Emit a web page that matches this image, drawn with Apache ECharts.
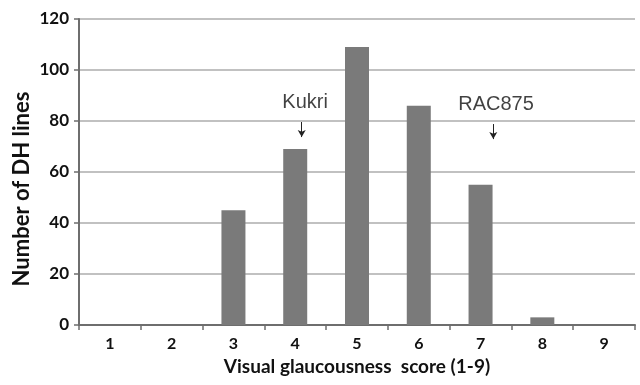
<!DOCTYPE html>
<html>
<head>
<meta charset="utf-8">
<script src="https://cdn.jsdelivr.net/npm/echarts@6/dist/echarts.min.js"></script>
<style>
html,body{margin:0;padding:0;background:#fff;}
#chart{width:640px;height:385px;}
</style>
</head>
<body>
<div id="chart"></div>
<script>
var categories = ['1','2','3','4','5','6','7','8','9'];
var counts = [0, 0, 45, 69, 109, 86, 55, 3, 0];
var yTicks = [0, 20, 40, 60, 80, 100, 120];
var xTitle = 'Visual glaucousness  score (1-9)';
var yTitle = 'Number of DH lines';
// annotations: label, x position on score scale, label height, arrow top, arrow bottom
var annotLabels = ['Kukri', 'RAC875'];
var annotTextX = [4.16, 7.25];
var annotArrowX = [4.105, 7.206];
var annotTextY = [87.1, 86.5];
var annotArrowTop = [79.6, 78.8];
var annotArrowBottom = [73.7, 72.9];

var FONT = 'Lato';
var chart = echarts.init(document.getElementById('chart'));

var textPoints = annotLabels.map(function (l, i) {
  return { value: [annotTextX[i], annotTextY[i]], name: l };
});
var arrowLines = annotLabels.map(function (l, i) {
  return [{ coord: [annotArrowX[i], annotArrowTop[i]] }, { coord: [annotArrowX[i], annotArrowBottom[i]] }];
});

chart.setOption({
  animation: false,
  grid: { left: 79, right: 5, top: 19, bottom: 60, containLabel: false },
  xAxis: [{
    type: 'category',
    data: categories,
    name: xTitle,
    nameLocation: 'middle',
    nameGap: 26,
    nameTextStyle: { fontFamily: FONT, fontWeight: 'bold', fontSize: 19, color: '#111' },
    axisLine: { lineStyle: { color: '#6e6e6e', width: 2 } },
    axisTick: { show: true, alignWithLabel: false, length: 5, lineStyle: { color: '#6e6e6e', width: 1.5 } },
    axisLabel: { fontFamily: FONT, fontWeight: 'bold', fontSize: 16, color: '#111', margin: 11 },
    splitLine: { show: false }
  }, {
    type: 'value',
    min: 0.5, max: 9.5,
    show: false,
    position: 'bottom'
  }],
  yAxis: {
    type: 'value',
    min: yTicks[0],
    max: yTicks[yTicks.length - 1],
    interval: yTicks[1] - yTicks[0],
    axisLine: { show: true, lineStyle: { color: '#6e6e6e', width: 2 } },
    axisTick: { show: true, length: 5, lineStyle: { color: '#6e6e6e', width: 1.5 } },
    axisLabel: { fontFamily: FONT, fontWeight: 'bold', fontSize: 17, color: '#111', margin: 10 },
    splitLine: { show: true, lineStyle: { color: '#acacac', width: 1.5 } }
  },
  graphic: [{
    type: 'text',
    x: 22, y: 189,
    rotation: Math.PI / 2,
    style: {
      text: yTitle,
      font: 'bold 22px ' + FONT,
      fill: '#111',
      textAlign: 'center',
      textVerticalAlign: 'middle'
    }
  }],
  series: [{
    type: 'bar',
    data: counts,
    barWidth: 24,
    itemStyle: { color: '#7a7a7a' },
    z: 3
  }, {
    type: 'scatter',
    xAxisIndex: 1,
    data: textPoints,
    symbolSize: 0,
    silent: true,
    label: {
      show: true,
      position: 'inside',
      formatter: '{b}',
      fontFamily: 'Liberation Sans',
      fontSize: 20,
      color: '#111'
    },
    markLine: {
      silent: true,
      symbol: ['none', 'arrow'],
      symbolSize: [6, 7],
      label: { show: false },
      lineStyle: { color: '#222', width: 1, type: 'solid' },
      data: arrowLines
    }
  }]
});
</script>
</body>
</html>
